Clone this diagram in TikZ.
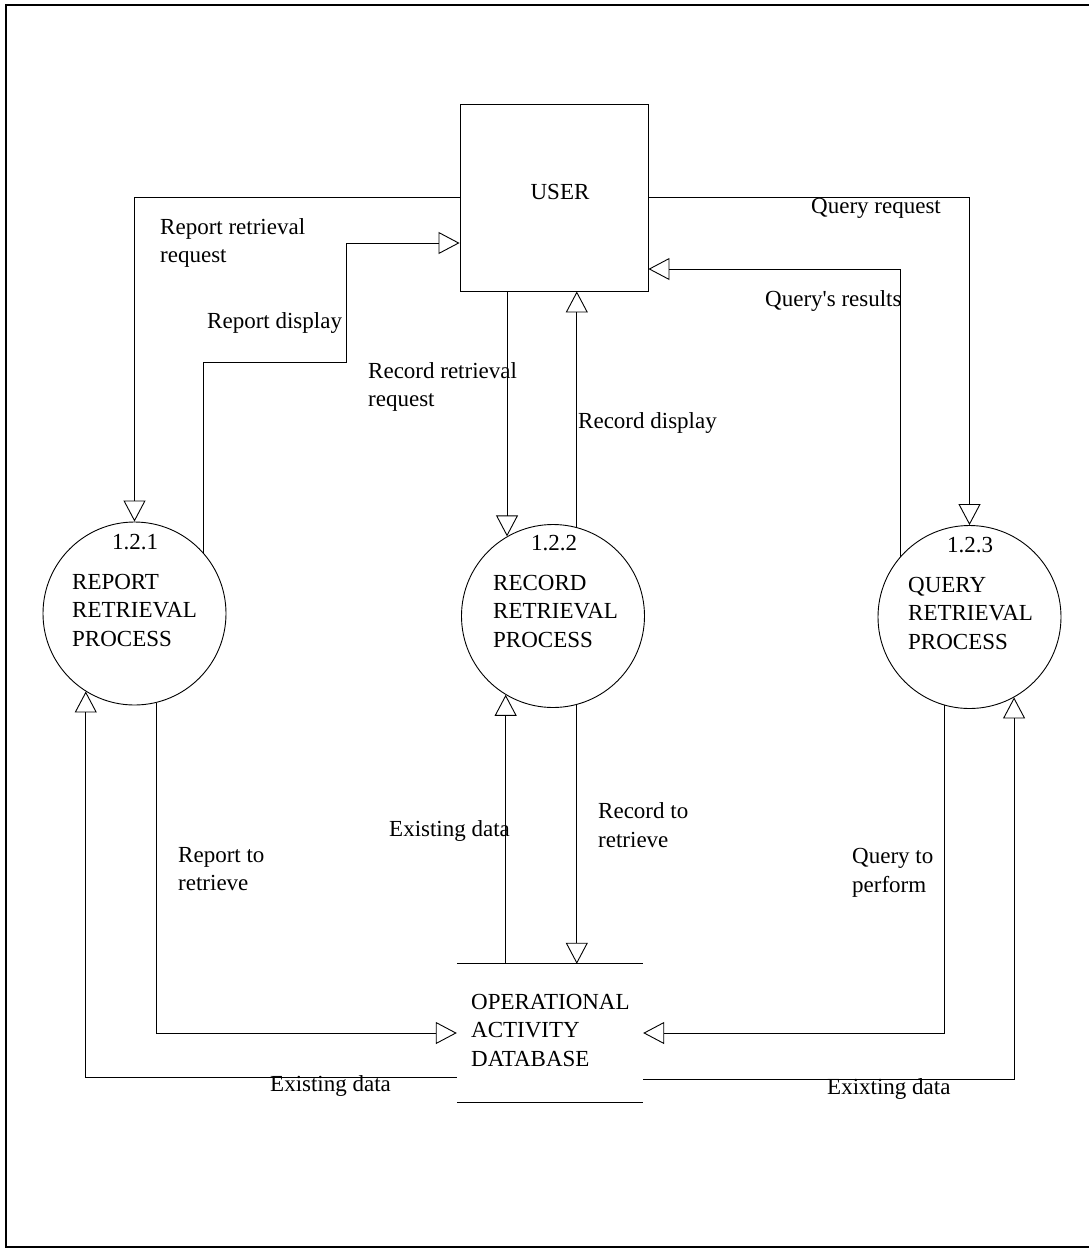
\documentclass[tikz,border=0pt]{standalone}
\usepackage{fontspec}
\setmainfont{Liberation Serif}
\usetikzlibrary{arrows.meta}
\begin{document}
\begin{tikzpicture}[x=1pt,y=-1pt,
  txt/.style={font=\fontsize{23}{28.5}\selectfont, inner sep=0pt, align=left},
  lbl/.style={txt, anchor=west},
  proc/.style={circle, draw, line width=0.9pt, minimum size=183pt, inner sep=0pt},
  plain/.style={draw, line width=0.9pt},
  flow/.style={plain, -{Triangle[open, length=21pt, width=22pt, line width=0.9pt]}},
  frame/.style={draw, line width=1.6pt}]
\useasboundingbox (0,0) rectangle (1089,1251);

% page frame
\draw[frame] (1089,5) -- (6,5) -- (6,1247) -- (1089,1247);

% external entity
\node[plain, minimum width=188pt, minimum height=187pt, inner sep=0pt] (user) at (554,197.5) {};
\node[txt] (usertxt) at (560,192) {USER};

% processes
\node[proc] (p1) at (134.5,613.5) {};
\node[proc] (p2) at (553,616) {};
\node[proc] (p3) at (969.5,617) {};
\node[txt] (p1num) at (135,542) {1.2.1};
\node[txt] (p2num) at (554,543) {1.2.2};
\node[txt] (p3num) at (970,545) {1.2.3};
\node[lbl] (p1txt) at (72,610) {REPORT\\RETRIEVAL\\PROCESS};
\node[lbl] (p2txt) at (493,611) {RECORD\\RETRIEVAL\\PROCESS};
\node[lbl] (p3txt) at (908,613) {QUERY\\RETRIEVAL\\PROCESS};

% data store
\node[minimum width=186pt, minimum height=138pt, inner sep=0pt] (db) at (550,1033) {};
\draw[plain] (db.north west) -- (db.north east);
\draw[plain] (db.south west) -- (db.south east);
\node[lbl] (dbtxt) at (471,1030) {OPERATIONAL\\ACTIVITY\\DATABASE};

% flows between user and processes
\draw[flow] (user.west) -| (p1.north);
\draw[flow] (p1.41) |- (346,362) |- (user.west |- 0,243);
\draw[flow] (p2.120 |- user.south) -- (p2.120);
\draw[flow] (p2.75) -- (p2.75 |- user.south);
\draw[flow] (user.east) -| (p3.north);
\draw[flow] (p3.139) |- (user.east |- 0,269);

% flows between processes and data store
\draw[flow] (p1.-76) |- (db.west);
\draw[flow] (db.west |- 0,1077) -| (p1.-122);
\draw[flow] (p2.-121 |- db.north) -- (p2.-121);
\draw[flow] (p2.-75) -- (p2.-75 |- db.north);
\draw[flow] (p3.-106) |- (db.east);
\draw[flow] (db.east |- 0,1079) -| (p3.-61);

% flow labels
\node[lbl] (l1) at (160,243) {Report retrieval\\request};
\node[lbl] (l2) at (207,323) {Report display};
\node[lbl] (l3) at (368,387) {Record retrieval\\request};
\node[lbl] (l4) at (578,423) {Record display};
\node[lbl] (l5) at (811,208) {Query request};
\node[lbl] (l6) at (765,301) {Query\textquotesingle s results};
\node[lbl] (l7) at (389,831) {Existing data};
\node[lbl] (l8) at (598,825) {Record to\\retrieve};
\node[lbl] (l9) at (178,869) {Report to\\retrieve};
\node[lbl] (l10) at (852,873) {Query to\\perform};
\node[lbl] (l11) at (270,1086) {Existing data};
\node[lbl] (l12) at (827,1089) {Exixting data};
\end{tikzpicture}
\end{document}
